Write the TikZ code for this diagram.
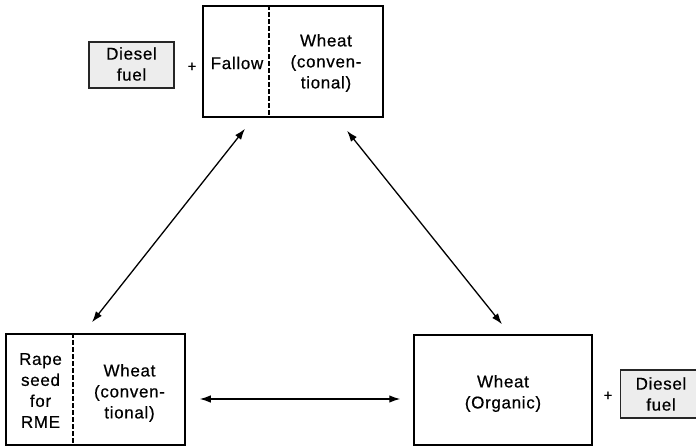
\documentclass[tikz,border=0pt]{standalone}
\usepackage{fontspec}
\setmainfont{Liberation Sans}
\newfontfamily\lblfont{Liberation Sans}[LetterSpace=4,FakeBold=0.5]
\usetikzlibrary{arrows.meta}
\begin{document}
\begin{tikzpicture}[x=1pt,y=-1pt,
  box/.style={draw=black,line width=1.5pt,minimum width=#1,inner sep=0pt},
  box/.default=180pt,
  fuelbox/.style={draw=black!85,line width=1.3pt,fill=black!7,minimum width=85pt,minimum height=46pt,inner sep=0pt},
  lbl/.style={align=center,font=\lblfont\fontsize{17}{21}\selectfont,inner sep=0pt},
  plussign/.style={font=\lblfont\fontsize{15}{18}\selectfont,inner sep=0pt},
  arr/.style={line width=1.3pt,{Latex[length=11pt,width=7.5pt]}-{Latex[length=11pt,width=7.5pt]}},
  divider/.style={line width=1.2pt,dash pattern=on 4.5pt off 2.5pt}]
\useasboundingbox (0,0) rectangle (696,447);
% top box
\node[box=180pt,minimum height=111pt] (top) at (293,61.5) {};
\draw[divider] ([xshift=-24pt]top.north) -- ([xshift=-24pt]top.south);
\node[lbl] (fallow) at (237,63) {Fallow};
\node[lbl] (wheattop) at (326,63) {Wheat\\(conven-\\tional)};
\node[fuelbox] (fueltop) at (131.5,65) {};
\node[lbl] (fueltoplbl) at (131.5,64) {Diesel\\fuel};
\node[plussign] (plustop) at (192,67) {+};
% bottom left box
\node[box=179pt,minimum height=111pt] (bl) at (95.5,389.5) {};
\draw[divider] ([xshift=-22.5pt]bl.north) -- ([xshift=-22.5pt]bl.south);
\node[lbl] (rape) at (40.5,390.5) {Rape\\seed\\for\\RME};
\node[lbl] (wheatbl) at (129.5,393) {Wheat\\(conven-\\tional)};
% bottom right box
\node[box=178pt,minimum height=110pt] (br) at (503,390) {};
\node[lbl] (wheatbr) at (503,393.5) {Wheat\\(Organic)};
\node[fuelbox,minimum height=48pt] (fuelbr) at (663,394) {};
\node[lbl] (fuelbrlbl) at (661,394) {Diesel\\fuel};
\node[plussign] (plusbr) at (608,396) {+};
% arrows
\draw[arr] ([xshift=-48pt,yshift=-11pt]top.south) -- ([xshift=-3.5pt,yshift=11pt]bl.north);
\draw[arr] ([xshift=54pt,yshift=-13pt]top.south) -- ([xshift=-1pt,yshift=10pt]br.north);
\draw[arr] ([xshift=14pt,yshift=-9.5pt]bl.east) -- ([xshift=-13pt,yshift=-9pt]br.west);
\end{tikzpicture}
\end{document}
